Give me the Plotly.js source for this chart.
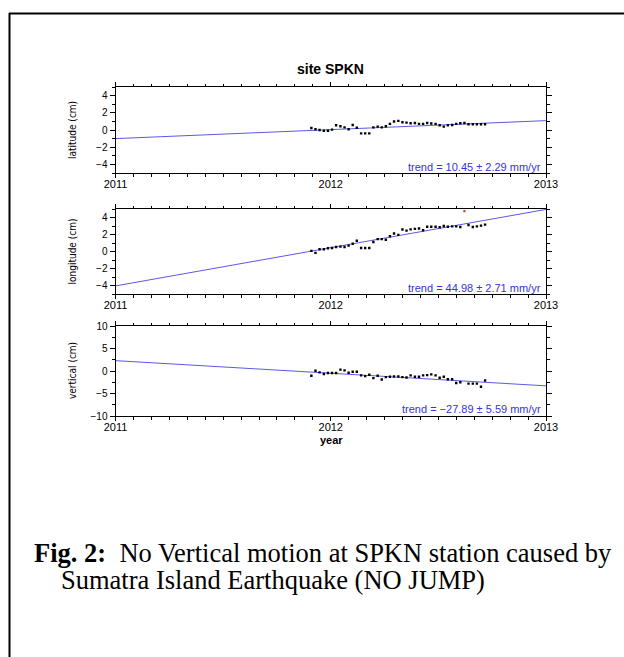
<!DOCTYPE html>
<html>
<head>
<meta charset="utf-8">
<script src="https://cdn.plot.ly/plotly-3.0.1.min.js"></script>
<style>
  html, body { margin: 0; padding: 0; background: #ffffff; }
  #chart { width: 624px; height: 657px; }
</style>
</head>
<body>
<div id="chart"></div>
<script>
// ---- data (decimal years, cm) ----
const t = [2011.910, 2011.929, 2011.948, 2011.968, 2011.987, 2012.006, 2012.025, 2012.045, 2012.064, 2012.083,
           2012.102, 2012.121, 2012.141, 2012.160, 2012.179, 2012.198, 2012.218, 2012.237, 2012.256, 2012.275,
           2012.294, 2012.314, 2012.333, 2012.352, 2012.371, 2012.391, 2012.410, 2012.429, 2012.448, 2012.467,
           2012.487, 2012.506, 2012.525, 2012.544, 2012.564, 2012.583, 2012.602, 2012.621, 2012.640, 2012.660,
           2012.679, 2012.698, 2012.717];
const latitude = [0.24, 0.08, 0.00, -0.08, -0.08, 0.04, 0.55, 0.43, 0.31, 0.08,
                  0.59, 0.27, -0.39, -0.39, -0.39, 0.31, 0.39, 0.31, 0.43, 0.71,
                  0.98, 1.06, 0.90, 0.86, 0.78, 0.82, 0.71, 0.71, 0.82, 0.75,
                  0.71, 0.55, 0.39, 0.55, 0.59, 0.71, 0.78, 0.82, 0.67, 0.67,
                  0.67, 0.67, 0.67];
const longitude = [0.07, -0.16, 0.27, 0.27, 0.38, 0.42, 0.53, 0.57, 0.53, 0.69,
                   0.92, 1.27, 0.42, 0.42, 0.42, 1.11, 1.46, 1.46, 1.38, 1.80,
                   2.11, 1.96, 2.58, 2.46, 2.60, 2.66, 2.70, 2.50, 2.92, 2.92,
                   2.92, 2.85, 3.00, 2.92, 2.96, 2.96, 2.89, null, 3.12, 2.89,
                   2.96, 3.04, 3.16];
const longitudeOutlierT = [2012.621];
const longitudeOutlier = [4.74];
const vertical = [-1.06, 0.07, -0.30, -0.68, -0.45, -0.45, -0.45, 0.30, 0.15, -0.38,
                  -0.15, -0.15, -0.98, -1.14, -0.83, -1.59, -1.06, -1.89, -1.36, -1.29,
                  -1.21, -1.21, -1.36, -1.44, -0.98, -1.29, -1.29, -0.98, -0.91, -0.76,
                  -0.98, -1.51, -1.29, -1.82, -1.82, -2.65, -2.50, null, -2.80, -2.80,
                  -2.80, -3.50, -2.10];
const trendT = [2011, 2013];
const latTrend = [-1.00, 1.09];
const lonTrend = [-4.05, 4.95];
const vertTrend = [2.30, -3.30];
const trendLabels = ["trend = 10.45 ± 2.29 mm/yr", "trend = 44.98 ± 2.71 mm/yr", "trend = −27.89 ± 5.59 mm/yr"];
const yTitles = ["latitude (cm)", "longitude (cm)", "vertical (cm)"];
const xTickVals = [2011, 2012, 2013];
const xTickText = ["2011", "2012", "2013"];

// ---- layout helpers (pixel -> paper) ----
const W = 624, H = 657;
const px = x => x / W;
const py = y => 1 - y / H;

const SANS = "Liberation Sans, Arial, Helvetica, sans-serif";
const NARROW = "Liberation Sans Narrow, DejaVu Sans Condensed, Liberation Sans, sans-serif";
const SERIF = "Liberation Serif, Times New Roman, serif";
const BLUE_LINE = "#5a5ae6";
const BLUE_TEXT = "#3434d8";

const dots = (x, y, xa, ya) => ({
  x: x, y: y, xaxis: xa, yaxis: ya, type: "scatter", mode: "markers",
  marker: {symbol: "square", size: 2.4, color: "#000000"}, hoverinfo: "skip", showlegend: false
});
const trend = (y, xa, ya) => ({
  x: trendT, y: y, xaxis: xa, yaxis: ya, type: "scatter", mode: "lines",
  line: {color: BLUE_LINE, width: 1}, hoverinfo: "skip", showlegend: false
});

const data = [
  trend(latTrend, "x", "y"),
  dots(t, latitude, "x", "y"),
  trend(lonTrend, "x2", "y2"),
  dots(t, longitude, "x2", "y2"),
  {x: longitudeOutlierT, y: longitudeOutlier, xaxis: "x2", yaxis: "y2", type: "scatter", mode: "markers",
   marker: {symbol: "square", size: 2.2, color: "#e03c1c"}, hoverinfo: "skip", showlegend: false},
  trend(vertTrend, "x3", "y3"),
  dots(t, vertical, "x3", "y3")
];

const xDomain = [px(115.5), px(546)];
const panels = [
  {top: 87, bottom: 173, range: [-5, 5], dtick: 2, minor: 1},
  {top: 209, bottom: 294, range: [-5, 5], dtick: 2, minor: 1},
  {top: 326, bottom: 416, range: [-10, 10], dtick: 5, minor: 2.5}
];

const xAxisBase = (anchor) => ({
  domain: xDomain, anchor: anchor, range: [2011, 2013],
  tickmode: "array", tickvals: xTickVals, ticktext: xTickText,
  ticks: "outside", ticklen: 4, tickwidth: 1, tickcolor: "#000",
  ticklabelstandoff: -3,
  minor: {tickmode: "linear", tick0: 2011, dtick: 1 / 12, ticks: "outside", ticklen: 2.5, tickcolor: "#000"},
  showline: true, linecolor: "#000", linewidth: 1, mirror: "ticks",
  showgrid: false, zeroline: false, fixedrange: true,
  tickfont: {family: SANS, size: 11, color: "#000"}
});
const yAxisBase = (p, anchor) => ({
  domain: [py(p.bottom), py(p.top)], anchor: anchor, range: p.range,
  tickmode: "linear", tick0: 0, dtick: p.dtick,
  ticks: "outside", ticklen: 5, tickwidth: 1, tickcolor: "#000",
  minor: {tickmode: "linear", tick0: 0, dtick: p.minor, ticks: "outside", ticklen: 3, tickcolor: "#000"},
  showline: true, linecolor: "#000", linewidth: 1, mirror: "ticks",
  showgrid: false, zeroline: false, fixedrange: true,
  tickfont: {family: SANS, size: 10, color: "#000"}
});

const annotations = [];
annotations.push({xref: "paper", yref: "paper", x: px(330.5), y: py(69), text: "<b>site SPKN</b>",
  showarrow: false, xanchor: "center", yanchor: "middle", font: {family: SANS, size: 14, color: "#000"}});
const trendY = [167, 288, 409];
panels.forEach((p, i) => {
  annotations.push({xref: "paper", yref: "paper", x: px(543), y: py(trendY[i]), text: trendLabels[i],
    showarrow: false, xanchor: "right", yanchor: "middle", font: {family: SANS, size: 11, color: BLUE_TEXT}});
  annotations.push({xref: "paper", yref: "paper", x: px(72), y: py((p.top + p.bottom) / 2), text: yTitles[i],
    showarrow: false, textangle: -90, xanchor: "center", yanchor: "middle",
    font: {family: NARROW, size: 10, color: "#000"}});
});
annotations.push({xref: "paper", yref: "paper", x: px(331), y: py(439.5), text: "<b>year</b>",
  showarrow: false, xanchor: "center", yanchor: "middle", font: {family: SANS, size: 11, color: "#000"}});
annotations.push({xref: "paper", yref: "paper", x: px(32), y: py(553),
  text: "<b>Fig. 2:</b>  No Vertical motion at SPKN station caused by",
  showarrow: false, xanchor: "left", yanchor: "middle", font: {family: SERIF, size: 26.5, color: "#000"}});
annotations.push({xref: "paper", yref: "paper", x: px(59), y: py(580),
  text: "Sumatra Island Earthquake (NO JUMP)",
  showarrow: false, xanchor: "left", yanchor: "middle", font: {family: SERIF, size: 26.5, color: "#000"}});

const shapes = [
  {type: "line", xref: "paper", yref: "paper", x0: px(9), x1: px(640), y0: py(13.5), y1: py(13.5),
   line: {color: "#000", width: 2}},
  {type: "line", xref: "paper", yref: "paper", x0: px(9.5), x1: px(9.5), y0: py(13), y1: py(670),
   line: {color: "#000", width: 2}}
];

const layout = {
  width: W, height: H,
  margin: {l: 0, r: 0, t: 0, b: 0},
  paper_bgcolor: "#ffffff", plot_bgcolor: "#ffffff",
  showlegend: false,
  xaxis: xAxisBase("y"), yaxis: yAxisBase(panels[0], "x"),
  xaxis2: xAxisBase("y2"), yaxis2: yAxisBase(panels[1], "x2"),
  xaxis3: xAxisBase("y3"), yaxis3: yAxisBase(panels[2], "x3"),
  annotations: annotations,
  shapes: shapes
};

Plotly.newPlot("chart", data, layout, {displayModeBar: false, staticPlot: true});
</script>
</body>
</html>
